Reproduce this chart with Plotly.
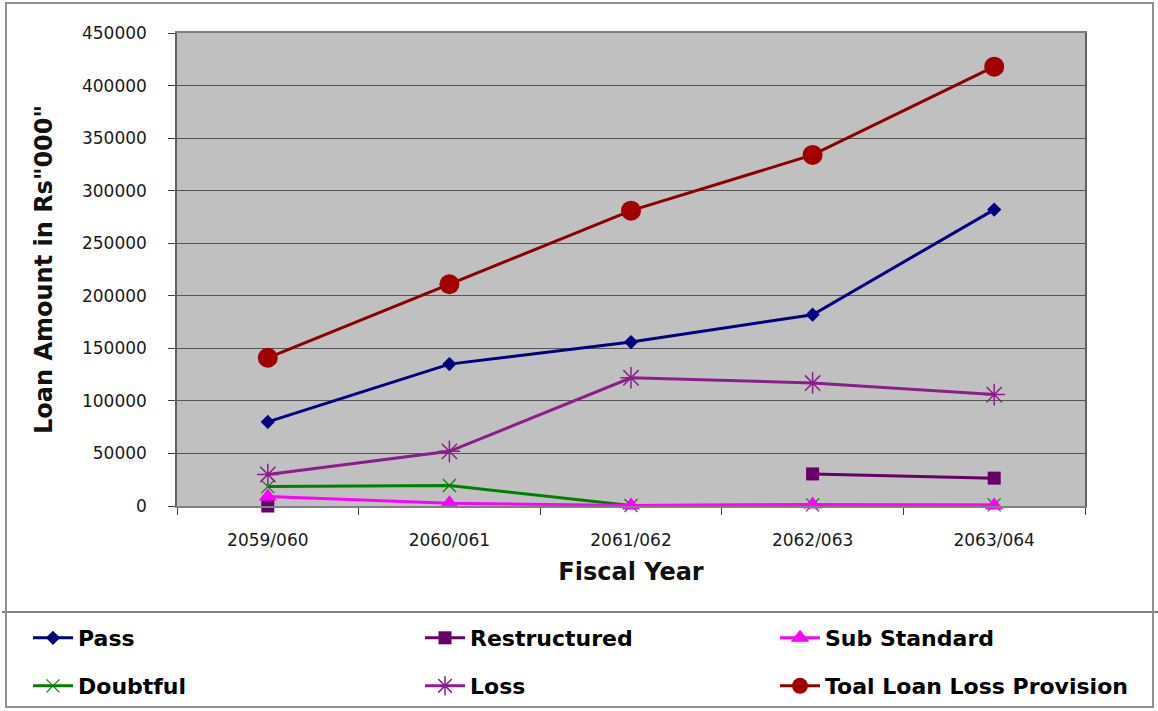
import plotly.graph_objects as go

years = ["2059/060", "2060/061", "2061/062", "2062/063", "2063/064"]
pass_vals = [80000, 135000, 156000, 182000, 282000]
restructured = [0, None, None, 30500, 26500]
sub_standard = [9000, 2500, 500, 1500, 500]
doubtful = [18500, 19500, 500, 1000, 1000]
loss = [30000, 52000, 122000, 117000, 106000]
total = [141000, 211000, 281000, 334000, 418000]
y_ticks = [0, 50000, 100000, 150000, 200000, 250000, 300000, 350000, 400000, 450000]

FONT = "DejaVu Sans, Liberation Sans, Arial, sans-serif"

# (name, values, line colour, marker, legend slot); listed in drawing order
series = [
    ("Doubtful", doubtful, "#008000", dict(symbol="x-thin-open", size=13, line=dict(color="#7a9a7a", width=1.2)), "legend4"),
    ("Loss", loss, "#8B1E8B", dict(symbol="asterisk-open", size=18, line=dict(color="#7a607a", width=1.5)), "legend5"),
    ("Toal Loan Loss Provision", total, "#8B0000", dict(symbol="circle", size=20, color="#A00000"), "legend6"),
    ("Pass", pass_vals, "#000080", dict(symbol="diamond", size=11, color="#000080"), "legend"),
    ("Restructured", restructured, "#660066", dict(symbol="square", size=13, color="#660066"), "legend2"),
    ("Sub Standard", sub_standard, "#FF00FF", dict(symbol="triangle-up", size=16, color="#FF00FF"), "legend3"),
]

fig = go.Figure()
for name, vals, col, mk, lg in series:
    fig.add_trace(go.Scatter(
        x=years, y=vals, name=name, mode="lines+markers",
        line=dict(color=col, width=3), marker=mk, legend=lg,
        cliponaxis=False, connectgaps=False,
    ))

L, R, T, B = 177, 1085, 33, 506
W, H = R - L, B - T
def px(x):
    return (x - L) / W
def py(y):
    return (B - y) / H

legend_common = dict(orientation="h", font=dict(family=FONT, size=22, color="#000000", weight="bold"),
                     bgcolor="rgba(0,0,0,0)", yanchor="middle", xanchor="left", itemwidth=40)
cols = [28, 420, 775]
rows = [638, 686]
legend_pos = {}
keys = ["legend", "legend2", "legend3", "legend4", "legend5", "legend6"]
for i, k in enumerate(keys):
    r, c = divmod(i, 3)
    legend_pos[k] = dict(legend_common, x=px(cols[c]), y=py(rows[r]))

fig.update_layout(
    width=1158, height=711,
    margin=dict(l=L, r=1158 - R, t=T, b=711 - B, autoexpand=False),
    paper_bgcolor="white", plot_bgcolor="#C0C0C0",
    font=dict(family=FONT, color="#000000"),
    showlegend=True,
    **legend_pos,
    xaxis=dict(
        type="category", range=[-0.5, 4.5], tickson="boundaries",
        ticks="outside", ticklen=7, tickcolor="#404040",
        showline=True, linecolor="#808080", linewidth=1.5, mirror=True,
        showgrid=False, zeroline=False,
        tickfont=dict(family=FONT, size=17, color="#1a1a1a"),
        ticklabelstandoff=18,
        title=dict(text="Fiscal Year", font=dict(family=FONT, size=24, weight="bold", color="#111111"), standoff=14),
    ),
    yaxis=dict(
        range=[0, 450000], tickvals=y_ticks, ticktext=[str(v) for v in y_ticks],
        ticks="outside", ticklen=7, tickcolor="#404040",
        showline=True, linecolor="#606060", linewidth=1.5, mirror=True,
        showgrid=True, gridcolor="#555555", gridwidth=1, zeroline=False,
        tickfont=dict(family=FONT, size=17, color="#1a1a1a"),
        ticklabelstandoff=18,
        title=dict(text='Loan Amount in Rs"000"', font=dict(family=FONT, size=24, weight="bold", color="#111111"), standoff=23),
    ),
    shapes=[
        dict(type="line", xref="paper", yref="paper", x0=px(2), x1=px(1158), y0=py(612), y1=py(612),
             line=dict(color="#808080", width=2)),
        dict(type="rect", xref="paper", yref="paper", x0=px(6), x1=px(1153), y0=py(707), y1=py(3),
             line=dict(color="#909090", width=2)),
    ],
)

fig.write_html("out.html", post_script="document.body.style.margin='0px';",
               config={"displayModeBar": False})
